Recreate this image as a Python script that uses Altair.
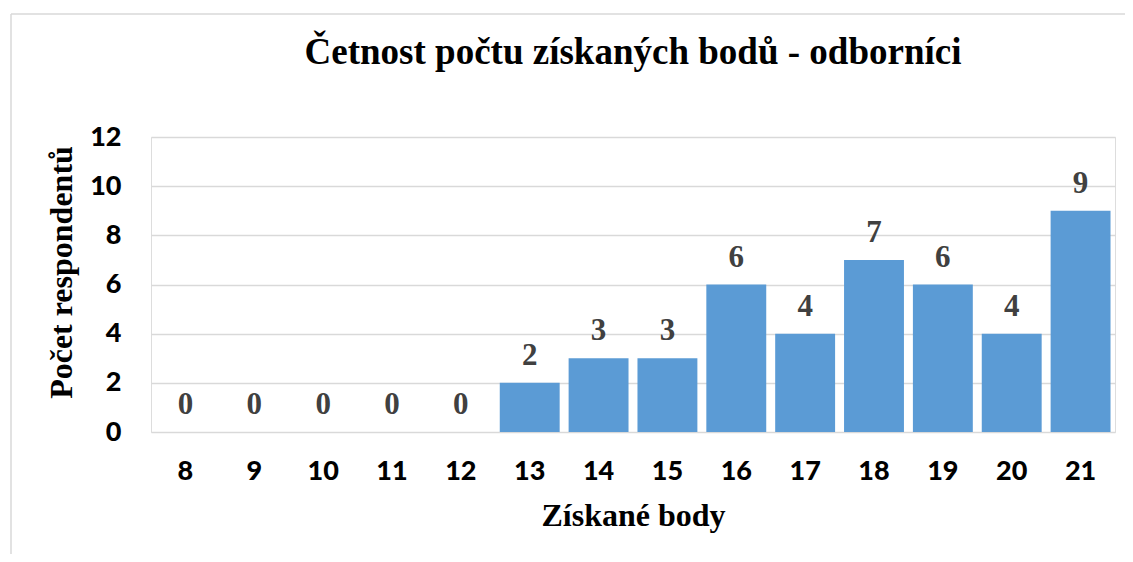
import altair as alt
import pandas as pd

categories = ["8", "9", "10", "11", "12", "13", "14", "15", "16", "17", "18", "19", "20", "21"]
counts = [0, 0, 0, 0, 0, 2, 3, 3, 6, 4, 7, 6, 4, 9]
y_ticks = [0, 2, 4, 6, 8, 10, 12]

df = pd.DataFrame({"body": categories, "pocet": counts})

SERIF = "Liberation Serif"
SANS = "Lato"

x_enc = alt.X(
    "body:N",
    sort=categories,
    scale=alt.Scale(paddingInner=0.13, paddingOuter=0.065),
    axis=alt.Axis(
        title="Získané body",
        titleFont=SERIF, titleFontSize=32, titleFontWeight="bold", titleColor="black",
        titleBaseline="alphabetic", titleY=93, titleX=482,
        labelFont=SANS, labelFontSize=27, labelFontWeight=900, labelColor="black",
        labelAngle=0, labelPadding=26,
        ticks=False, domain=False, grid=False,
    ),
)

y_enc = alt.Y(
    "pocet:Q",
    scale=alt.Scale(domain=[0, 12], nice=False),
    axis=alt.Axis(
        title="Počet respondentů",
        values=y_ticks,
        titleFont=SERIF, titleFontSize=32, titleFontWeight="bold", titleColor="black",
        titleBaseline="alphabetic", titleX=-80, titleY=135, titleAngle=-90, titleAlign="center",
        labelFont=SANS, labelFontSize=27, labelFontWeight=900, labelColor="black",
        labelPadding=30, ticks=False, domain=False,
        grid=True, gridColor="#d9d9d9", gridWidth=1.5,
    ),
)

base = alt.Chart(df)

bars = base.mark_bar(color="#5B9BD5").encode(x=x_enc, y=y_enc)

labels = base.mark_text(
    font=SERIF, fontSize=31, fontWeight="bold", color="#404040",
    baseline="alphabetic", dy=-18,
).encode(x=alt.X("body:N", sort=categories), y="pocet:Q", text="pocet:Q")

border_data = alt.Data(values=[{"a": 1}])
left_border = alt.Chart(border_data).mark_rule(color="#d9d9d9", strokeWidth=1.5).encode(
    x=alt.value(-140), y=alt.value(-123), y2=alt.value(450)
)
top_border = alt.Chart(border_data).mark_rule(color="#d9d9d9", strokeWidth=1.5).encode(
    x=alt.value(-140), x2=alt.value(1000), y=alt.value(-123)
)

chart = alt.layer(left_border, top_border, bars, labels).properties(
    width=964,
    height=295,
    title=alt.TitleParams(
        "Četnost počtu získaných bodů - odborníci",
        font=SERIF, fontSize=37, fontWeight="bold", color="black",
        anchor="middle", baseline="alphabetic", offset=-88,
    ),
    autosize=alt.AutoSizeParams(type="none"),
    padding={"left": 143, "top": 129, "right": 10, "bottom": 122},
).configure_view(stroke=None).configure(background="white")

chart.save("out.html", embed_options={"renderer": "svg", "actions": False})
